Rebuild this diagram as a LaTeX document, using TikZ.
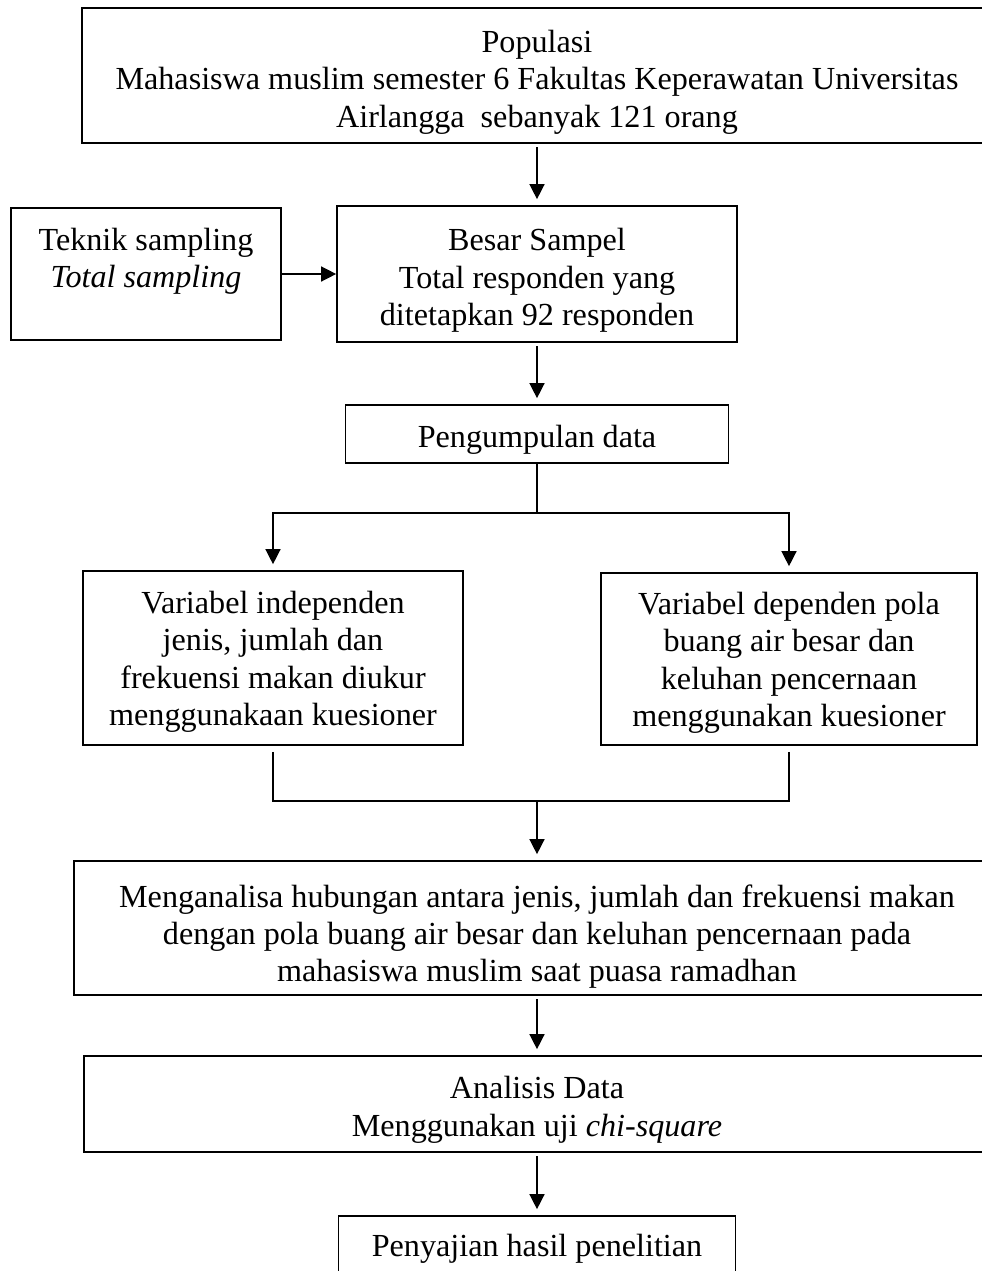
\documentclass[tikz,border=0pt]{standalone}
\usepackage{fontspec}
\setmainfont{Liberation Serif}
\usetikzlibrary{arrows.meta,positioning}

\begin{document}
\begin{tikzpicture}[x=0.02cm,y=-0.02cm,
                    >={Triangle[length=0.3cm,width=0.3cm]},
                    box node/.style={rectangle,draw,line width=1pt,inner sep=0pt,align=center,
                                     font=\fontsize{18.3}{21.3}\selectfont},
                    link/.style={->,line width=0.8pt,shorten <=2pt,shorten >=3.4pt},
                    wire/.style={line width=0.8pt}
                   ]
  \useasboundingbox (0,0) rectangle (982,1271);
  \clip (0,0) rectangle (982,1271);

  \node[box node,minimum width=18.2cm,minimum height=2.7cm,text height=63pt] (pop) at (537,75.5)
    {Populasi\\ Mahasiswa muslim semester 6 Fakultas Keperawatan Universitas\\ Airlangga\ \ sebanyak 121 orang};
  \node[box node,minimum width=5.4cm,minimum height=2.64cm,text height=58.5pt] (teknik) at (146,274)
    {Teknik sampling\\ \textit{Total sampling}\\ \mbox{}};
  \node[box node,minimum width=8cm,minimum height=2.72cm,text height=62.5pt] (besar) at (537,274)
    {Besar Sampel\\ Total responden yang\\ ditetapkan 92 responden};
  \node[box node,minimum width=7.66cm,minimum height=1.16cm,text height=19.3pt] (kumpul) at (537,434)
    {Pengumpulan data};
  \node[box node,minimum width=7.6cm,minimum height=3.48cm,text height=81pt] (indep) at (273,658)
    {Variabel independen\\ jenis, jumlah dan\\ frekuensi makan diukur\\ menggunakaan kuesioner};
  \node[box node,minimum width=7.52cm,minimum height=3.44cm,text height=81pt] (dep) at (789,659)
    {Variabel dependen pola\\ buang air besar dan\\ keluhan pencernaan\\ menggunakan kuesioner};
  \node[box node,minimum width=18.52cm,minimum height=2.68cm,text height=65.3pt] (analisa) at (537,928)
    {Menganalisa hubungan antara jenis, jumlah dan frekuensi makan\\ dengan pola buang air besar dan keluhan pencernaan pada\\ mahasiswa muslim saat puasa ramadhan};
  \node[box node,minimum width=18.12cm,minimum height=1.92cm,text height=40.6pt] (analisis) at (537,1104)
    {Analisis Data\\ Menggunakan uji \textit{chi-square}};
  \node[box node,minimum width=7.94cm,minimum height=1.16cm,text height=17pt] (saji) at (537,1245)
    {Penyajian hasil penelitian};

  \coordinate (split) at (537,513);
  \coordinate (merge) at (537,801);

  % alur utama
  \draw[link] (pop) -- (besar);
  \draw[link,shorten <=0pt,shorten >=0pt] (teknik) -- (besar);
  \draw[link] (besar) -- (kumpul);
  \draw[wire] (kumpul) -- (split);
  \draw[link,shorten <=0pt] (split) -| (indep);
  \draw[link,shorten <=0pt] (split) -| (dep);
  \draw[wire,shorten <=0.12cm] (indep) |- (merge);
  \draw[wire,shorten <=0.12cm] (dep) |- (merge);
  \draw[link,shorten <=0pt] (merge) -- (analisa);
  \draw[link] (analisa) -- (analisis);
  \draw[link] (analisis) -- (saji);
\end{tikzpicture}
\end{document}
